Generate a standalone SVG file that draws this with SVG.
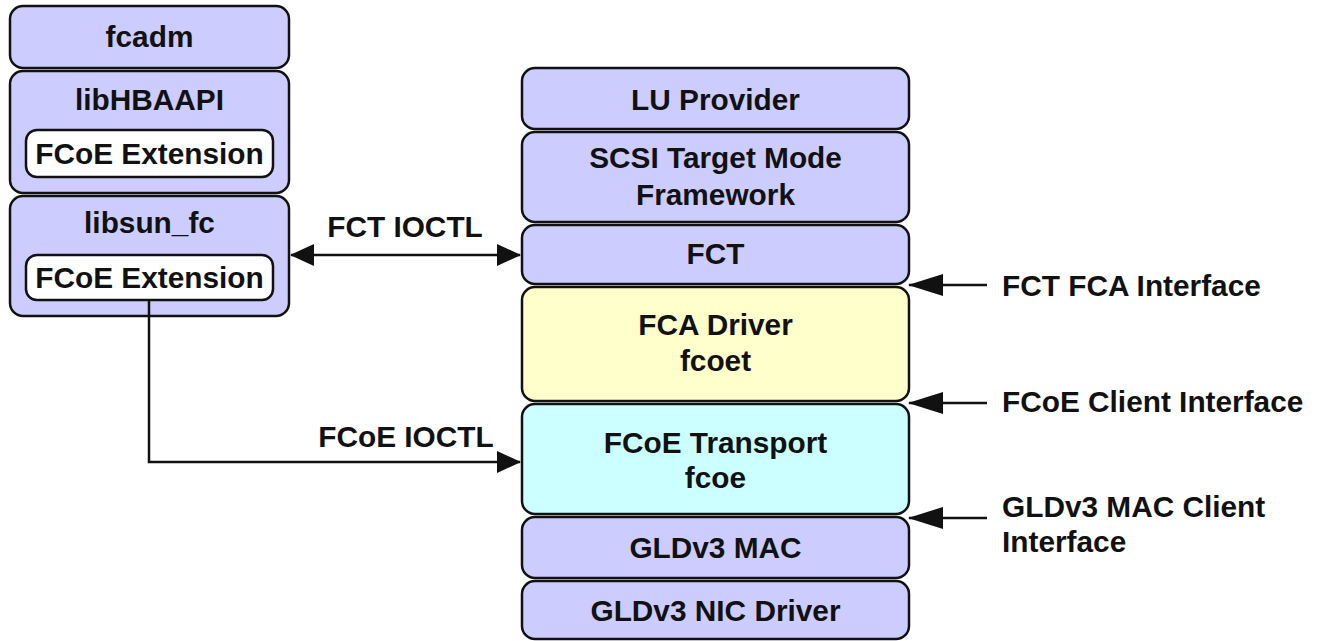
<svg xmlns="http://www.w3.org/2000/svg" width="1319" height="641" viewBox="0 0 1319 641">
<style>
.box{stroke:#111;stroke-width:2.5;}
.lav{fill:#ccccff;}
.yel{fill:#ffffcc;}
.cyan{fill:#ccffff;}
.wht{fill:#ffffff;}
text{font-family:"Liberation Sans",Arial,sans-serif;font-weight:bold;font-size:29.8px;fill:#111;}
.c{text-anchor:middle;}
.ln{stroke:#111;stroke-width:2.5;fill:none;}
</style>
<defs>
<marker id="ah" markerUnits="userSpaceOnUse" markerWidth="24" markerHeight="22" refX="23" refY="11" orient="auto-start-reverse">
<path d="M0,0 L24,11 L0,22 Z" fill="#111"/>
</marker>
<marker id="ahl" markerUnits="userSpaceOnUse" markerWidth="35" markerHeight="22" refX="34" refY="11" orient="auto">
<path d="M0,0 L35,11 L0,22 Z" fill="#111"/>
</marker>
</defs>
<rect width="1319" height="641" fill="#ffffff"/>
<g id="fcadm"><rect class="box lav" x="10" y="6" width="279" height="62" rx="13"/><text class="c" x="149.5" y="47">fcadm</text></g>
<g id="libHBAAPI"><rect class="box lav" x="10" y="71" width="279" height="122" rx="13"/><text class="c" x="149.5" y="110">libHBAAPI</text>
<g id="ext1"><rect class="box wht" x="26" y="130" width="247" height="47" rx="11"/><text class="c" x="149.5" y="163.5">FCoE Extension</text></g></g>
<g id="libsun_fc"><rect class="box lav" x="10" y="196" width="279" height="120" rx="13"/><text class="c" x="149.5" y="233">libsun_fc</text>
<g id="ext2"><rect class="box wht" x="26" y="255" width="247" height="45" rx="11"/><text class="c" x="149.5" y="287.5">FCoE Extension</text></g></g>
<g id="lu"><rect class="box lav" x="522" y="68" width="387" height="61" rx="13"/><text class="c" x="715.5" y="109.5">LU Provider</text></g>
<g id="scsi"><rect class="box lav" x="522" y="132" width="387" height="90" rx="13"/><text class="c" x="715.5" y="168">SCSI Target Mode</text><text class="c" x="715.5" y="205">Framework</text></g>
<g id="fct"><rect class="box lav" x="522" y="225" width="387" height="59" rx="13"/><text class="c" x="715.5" y="264">FCT</text></g>
<g id="fca"><rect class="box yel" x="522" y="287" width="387" height="114" rx="13"/><text class="c" x="715.5" y="335">FCA Driver</text><text class="c" x="715.5" y="371">fcoet</text></g>
<g id="fcoe"><rect class="box cyan" x="522" y="404" width="387" height="110" rx="13"/><text class="c" x="715.5" y="453">FCoE Transport</text><text class="c" x="715.5" y="488">fcoe</text></g>
<g id="mac"><rect class="box lav" x="522" y="517" width="387" height="61" rx="13"/><text class="c" x="715.5" y="557.5">GLDv3 MAC</text></g>
<g id="nic"><rect class="box lav" x="522" y="581" width="387" height="58" rx="13"/><text class="c" x="715.5" y="621">GLDv3 NIC Driver</text></g>
<g id="connectors">
<line class="ln" x1="291" y1="255" x2="520" y2="255" marker-start="url(#ah)" marker-end="url(#ah)"/>
<text class="c" x="405" y="237">FCT IOCTL</text>
<polyline class="ln" points="149,300 149,462 520,462" marker-end="url(#ah)"/>
<text class="c" x="406" y="447">FCoE IOCTL</text>
<line class="ln" x1="987" y1="285" x2="909" y2="285" marker-end="url(#ahl)"/>
<line class="ln" x1="987" y1="403" x2="909" y2="403" marker-end="url(#ahl)"/>
<line class="ln" x1="987" y1="518" x2="909" y2="518" marker-end="url(#ahl)"/>
</g>
<g id="labels">
<text x="1002" y="296">FCT FCA Interface</text>
<text x="1002" y="412">FCoE Client Interface</text>
<text x="1002" y="517">GLDv3 MAC Client</text>
<text x="1002" y="552">Interface</text>
</g>
</svg>
